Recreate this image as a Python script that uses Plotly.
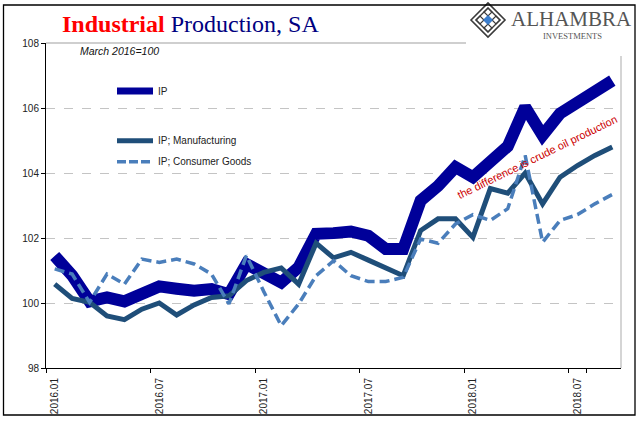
import plotly.graph_objects as go

months = ["2016.01","2016.02","2016.03","2016.04","2016.05","2016.06","2016.07","2016.08","2016.09","2016.10","2016.11","2016.12",
          "2017.01","2017.02","2017.03","2017.04","2017.05","2017.06","2017.07","2017.08","2017.09","2017.10","2017.11","2017.12",
          "2018.01","2018.02","2018.03","2018.04","2018.05","2018.06","2018.07","2018.08","2018.09"]

ip = [101.45, 100.85, 100.05, 100.17, 100.05, 100.27, 100.51, 100.44, 100.38, 100.43, 100.27, 101.20,
      100.90, 100.63, 101.10, 102.13, 102.15, 102.20, 102.07, 101.66, 101.66, 103.15, 103.60, 104.18,
      103.87, 104.39, 104.82, 106.03, 105.16, 105.83, 106.19, 106.53, 106.84]

manufacturing = [100.58, 100.14, 100.02, 99.60, 99.49, 99.81, 100.00, 99.63, 99.94, 100.17, 100.22, 100.69,
                 100.94, 101.08, 100.58, 101.84, 101.39, 101.56, 101.32, 101.10, 100.84, 102.23, 102.59, 102.59,
                 102.02, 103.52, 103.38, 104.00, 103.05, 103.87, 104.23, 104.54, 104.80]

consumer_goods = [101.05, 100.89, 100.02, 100.89, 100.58, 101.35, 101.25, 101.35, 101.20, 100.89, 99.97, 101.46,
                  100.35, 99.30, 99.97, 100.84, 101.30, 100.84, 100.66, 100.66, 100.79, 101.97, 101.84, 102.43,
                  102.72, 102.54, 102.90, 104.54, 101.87, 102.54, 102.72, 103.05, 103.34]

tick_labels = ["2016.01", "2016.07", "2017.01", "2017.07", "2018.01", "2018.07"]
y_ticks = [98, 100, 102, 104, 106, 108]

C_IP = "#000099"
C_MAN = "#1f4e79"
C_CG = "#4a7ebb"

fig = go.Figure()
fig.add_trace(go.Scatter(x=months, y=ip, mode="lines", name="IP",
                         line=dict(color=C_IP, width=12), showlegend=False))
fig.add_trace(go.Scatter(x=months, y=manufacturing, mode="lines", name="IP; Manufacturing",
                         line=dict(color=C_MAN, width=5), showlegend=False))
fig.add_trace(go.Scatter(x=months, y=consumer_goods, mode="lines", name="IP; Consumer Goods",
                         line=dict(color=C_CG, width=3.5, dash="10px,5px"), showlegend=False))

L, R, T, B = 46, 20, 43, 53
W, H = 641, 421
pw, ph = W - L - R, H - T - B

def px(x):
    return (x - L) / pw

def py(y):
    return (H - B - y) / ph

shapes = []
# plot top and right borders (gray)
shapes.append(dict(type="line", xref="paper", yref="paper", x0=0, x1=1, y0=1, y1=1,
                   line=dict(color="#bfbfbf", width=1.3), layer="below"))
shapes.append(dict(type="line", xref="paper", yref="paper", x0=1, x1=1, y0=0, y1=1,
                   line=dict(color="#bfbfbf", width=1.3), layer="below"))
# legend samples
legend_items = [("IP", C_IP, 7, "solid", 91),
                ("IP; Manufacturing", C_MAN, 5, "solid", 140.7),
                ("IP; Consumer Goods", C_CG, 3.5, "9px,3px", 161.7)]
annotations = []
for name, col, w, dash, yy in legend_items:
    shapes.append(dict(type="line", xref="paper", yref="paper", x0=px(117), x1=px(153), y0=py(yy), y1=py(yy),
                       line=dict(color=col, width=w, dash=dash)))
    annotations.append(dict(xref="paper", yref="paper", x=px(156), y=py(yy), text=name, showarrow=False,
                            xanchor="left", yanchor="middle",
                            font=dict(family="Liberation Sans", size=10, color="#222")))
# logo background
shapes.append(dict(type="rect", xref="paper", yref="paper", x0=px(466), x1=px(634), y0=py(56), y1=py(6),
                   fillcolor="white", line=dict(width=0), layer="above"))
# logo diamond
cx, cy, r = 488, 20, 17
def diamond(rr, **kw):
    return dict(type="path", xref="paper", yref="paper",
                path=f"M {px(cx-rr)},{py(cy)} L {px(cx)},{py(cy-rr)} L {px(cx+rr)},{py(cy)} L {px(cx)},{py(cy+rr)} Z",
                layer="above", **kw)
shapes.append(diamond(r, line=dict(color="#3a3a3a", width=1.6), fillcolor="white"))
shapes.append(diamond(12, line=dict(color="#3a3a3a", width=1.4), fillcolor="white"))
for ox, oy in [(-8, 0), (8, 0), (0, -8), (0, 8)]:
    shapes.append(dict(type="path", xref="paper", yref="paper",
                       path=f"M {px(cx+ox-4)},{py(cy+oy)} L {px(cx+ox)},{py(cy+oy-4)} L {px(cx+ox+4)},{py(cy+oy)} L {px(cx+ox)},{py(cy+oy+4)} Z",
                       line=dict(color="#3a3a3a", width=1.2), layer="above"))
shapes.append(diamond(4.5, line=dict(color="#2e6fc0", width=1), fillcolor="#3a7fd0"))
# outer frame
shapes.append(dict(type="rect", xref="paper", yref="paper", x0=px(3.5), x1=px(635), y0=py(415), y1=py(5),
                   line=dict(color="black", width=1.3), fillcolor="rgba(0,0,0,0)", layer="above"))

annotations += [
    dict(xref="paper", yref="paper", x=px(60), y=py(24), xanchor="left", yanchor="middle", showarrow=False,
         text="<b><span style='color:#ff0000'>Industrial</span></b> Production, SA",
         font=dict(family="Liberation Serif", size=24, color="#000080")),
    dict(xref="paper", yref="paper", x=px(78), y=py(50.5), xanchor="left", yanchor="middle", showarrow=False,
         text="<i>March 2016=100</i>", font=dict(family="Liberation Sans", size=10.5, color="#111")),
    dict(xref="paper", yref="paper", x=px(537), y=py(157), xanchor="center", yanchor="middle", showarrow=False,
         text="the difference is crude oil production", textangle=-26,
         font=dict(family="Liberation Sans", size=11, color="#cc0000")),
    dict(xref="paper", yref="paper", x=px(571), y=py(18.5), xanchor="center", yanchor="middle", showarrow=False,
         text="ALHAMBRA", borderpad=0,
         font=dict(family="Liberation Serif", size=21, color="#555555")),
    dict(xref="paper", yref="paper", x=px(572), y=py(36.5), xanchor="center", yanchor="middle", showarrow=False,
         text="INVESTMENTS", borderpad=0,
         font=dict(family="Liberation Serif", size=8.5, color="#555555")),
]

fig.update_layout(
    width=W, height=H,
    margin=dict(l=L, r=R, t=T, b=B, pad=0, autoexpand=False),
    paper_bgcolor="white", plot_bgcolor="white",
    showlegend=False,
    shapes=shapes, annotations=annotations,
    xaxis=dict(type="category", tickmode="array", tickvals=tick_labels, ticktext=tick_labels,
               tickson="boundaries", tickangle=-90, ticks="outside", ticklen=4, tickcolor="black",
               ticklabelstandoff=5, automargin=False,
               showline=True, linecolor="black", linewidth=1, showgrid=False, zeroline=False,
               range=[-0.5, len(months) - 0.5],
               tickfont=dict(family="Liberation Sans", size=10, color="#222")),
    yaxis=dict(range=[98, 108], tickvals=y_ticks, ticks="outside", ticklen=4, tickcolor="black",
               showline=True, linecolor="black", linewidth=1, showgrid=True, gridcolor="#c4c4c4",
               griddash="dash", gridwidth=1, zeroline=False, automargin=False,
               tickfont=dict(family="Liberation Sans", size=10, color="#222")),
)

fig.write_html("out.html", config={"displayModeBar": False},
               post_script="document.body.style.margin='0';")
